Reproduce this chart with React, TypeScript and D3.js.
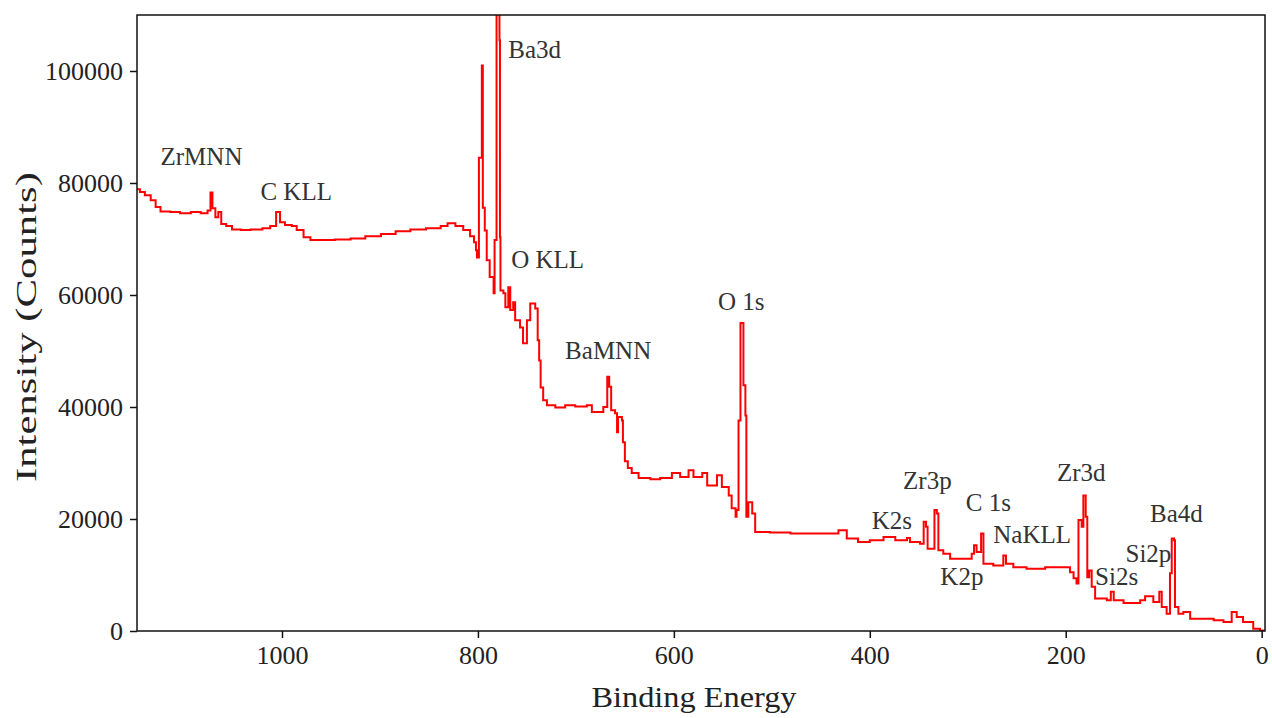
import React, { useEffect, useRef } from 'react'
import * as d3 from 'd3'

// XPS survey spectrum
const bindingEnergy = [
  1148, 1145, 1140, 1134, 1129, 1124, 1114, 1104, 1093, 1083, 1076, 1073, 1071, 1068, 1065, 1062, 1057, 1051,
  1042, 1032, 1020, 1012, 1006, 1002, 997, 990, 985, 978, 971, 961, 946, 930, 915, 899, 884, 869, 853, 838,
  831, 823, 815, 808, 804, 802, 801, 799, 796, 795, 793, 791, 788, 784, 783, 781, 778, 777.5, 777, 774, 772,
  769, 767, 764, 762, 757, 754, 750, 746.6, 741.5, 739, 737.5, 736, 733.4, 729.6, 721, 711, 700.7, 688.8,
  683.7, 675, 672, 668, 666, 664, 660, 658, 657, 653, 652, 650, 647, 643, 636, 624, 614, 607, 602, 593.6,
  585, 580, 571, 566, 556, 551, 544, 541, 537, 536, 534, 532, 529, 527, 526, 524, 520, 517, 502, 481, 461,
  437, 432, 423.5, 412, 400, 386, 374, 362, 359, 348.7, 345, 342.6, 341, 337, 334, 331.6, 330, 325, 318, 303,
  296, 293.6, 291, 286.4, 284, 274, 263.7, 261, 253.5, 240, 221, 199, 195.6, 192, 189, 187, 183.7, 182, 179.6,
  178, 176, 173.5, 170, 158, 154, 151, 141, 124, 119, 110.6, 104.5, 102, 97, 93.6, 91.8, 89.5, 88.5, 85, 80,
  73, 49, 39, 30.6, 25.5, 19, 8.6, 1.7, -3.4,
]
const intensity = [
  78900, 78400, 77800, 76900, 75700, 74900, 74800, 74600, 74800, 74600, 75100, 78300, 75500, 73900, 74800,
  72700, 72300, 71700, 71600, 71700, 71900, 72300, 74800, 73000, 72500, 72300, 71600, 70300, 69800, 69800,
  69900, 70100, 70500, 70900, 71400, 71700, 71900, 72300, 72800, 72300, 71600, 70500, 69400, 68000, 66700,
  84500, 101000, 75600, 71500, 66200, 63200, 60300, 69800, 113000, 105500, 70300, 60800, 60300, 57800, 61400,
  57300, 58700, 55500, 54200, 51400, 55500, 58500, 57600, 51900, 48300, 43500, 41200, 40300, 39900, 40300,
  40100, 40300, 39100, 39100, 40000, 45400, 43600, 39400, 38900, 35500, 38200, 37600, 33700, 30300, 29100,
  28200, 27300, 27100, 27300, 27300, 28200, 27500, 28700, 27500, 28200, 26000, 27800, 25700, 24200, 21900,
  20400, 21600, 37600, 55000, 43900, 38500, 20400, 23000, 21000, 17700, 17600, 17400, 17400, 17400, 18000,
  16500, 15900, 16200, 16800, 16200, 16600, 15900, 15600, 19500, 18600, 14700, 14700, 21600, 21000, 14400,
  13800, 12900, 12900, 13800, 15300, 14100, 17400, 12000, 11700, 13500, 12000, 11400, 11100, 11400, 11400,
  10500, 9400, 8500, 19800, 18600, 24200, 20400, 9600, 10800, 7900, 5800, 5500, 7000, 5500, 5000, 5500, 6200,
  5200, 7000, 4300, 3100, 10300, 16500, 16200, 4300, 3100, 3400, 2200, 1900, 1600, 3400, 2500, 1600, 400,
  100, 100,
]

const peakNames = ['ZrMNN', 'C KLL', 'Ba3d', 'O KLL', 'BaMNN', 'O 1s', 'K2s', 'Zr3p', 'C 1s', 'NaKLL', 'K2p', 'Zr3d', 'Ba4d', 'Si2p', 'Si2s']
const peakLabelEnergy = [1124, 1022, 769, 766, 711, 555, 398, 366, 302, 274, 328, 209, 114, 139, 170]
const peakLabelIntensity = [83200, 77000, 102300, 64900, 48500, 57300, 18300, 25300, 21400, 15700, 8200, 26700, 19400, 12300, 8300]

const xTicks = [1000, 800, 600, 400, 200, 0]
const yTicks = [0, 20000, 40000, 60000, 80000, 100000]

export default function App() {
  const svgRef = useRef<SVGSVGElement>(null)

  useEffect(() => {
    const width = 1272
    const height = 718
    const margin = { top: 15, right: 7, bottom: 87, left: 137 }
    const font = '"Liberation Serif", "Times New Roman", serif'

    const svg = d3.select(svgRef.current)
    svg.selectAll('*').remove()

    const x = d3.scaleLinear().domain([1148, -3.4]).range([margin.left, width - margin.right])
    const y = d3.scaleLinear().domain([0, 110000]).range([height - margin.bottom, margin.top])

    svg.append('defs').append('clipPath').attr('id', 'plot-clip')
      .append('rect')
      .attr('x', margin.left).attr('y', margin.top)
      .attr('width', width - margin.left - margin.right)
      .attr('height', height - margin.top - margin.bottom)

    // spectrum
    const pts = bindingEnergy.map((e, i) => [e, intensity[i]] as [number, number])
    const line = d3.line<[number, number]>().x(d => x(d[0])).y(d => y(d[1])).curve(d3.curveStepAfter)
    svg.append('path').datum(pts)
      .attr('clip-path', 'url(#plot-clip)')
      .attr('fill', 'none').attr('stroke', '#ff0000').attr('stroke-width', 2)
      .attr('d', line)

    // frame
    svg.append('rect')
      .attr('x', margin.left).attr('y', margin.top)
      .attr('width', width - margin.left - margin.right)
      .attr('height', height - margin.top - margin.bottom)
      .attr('fill', 'none').attr('stroke', '#111').attr('stroke-width', 1.5)

    // x axis
    const xAxis = svg.append('g').attr('transform', `translate(0,${height - margin.bottom})`)
    xAxis.call(d3.axisBottom(x).tickValues(d3.range(0, 1150, 50)).tickSize(4).tickFormat(() => ''))
    xAxis.call(d3.axisBottom(x).tickValues(xTicks).tickSize(7).tickPadding(8).tickFormat(d3.format('d')))
    xAxis.selectAll('.domain').remove()
    xAxis.selectAll('line').attr('stroke', '#111').attr('stroke-width', 1.5)
    xAxis.selectAll('text').attr('font-family', font).attr('font-size', 26).attr('fill', '#222')

    // y axis
    const yAxis = svg.append('g').attr('transform', `translate(${margin.left},0)`)
    yAxis.call(d3.axisLeft(y).tickValues(d3.range(0, 110001, 5000)).tickSize(4).tickFormat(() => ''))
    yAxis.call(d3.axisLeft(y).tickValues(yTicks).tickSize(7).tickPadding(7).tickFormat(d3.format('d')))
    yAxis.selectAll('.domain').remove()
    yAxis.selectAll('line').attr('stroke', '#111').attr('stroke-width', 1.5)
    yAxis.selectAll('text').attr('font-family', font).attr('font-size', 26).attr('fill', '#222')

    // titles
    svg.append('text')
      .attr('x', 694).attr('y', 707)
      .attr('text-anchor', 'middle')
      .attr('font-family', font).attr('font-size', 30).attr('fill', '#222')
      .attr('textLength', 205).attr('lengthAdjust', 'spacingAndGlyphs')
      .text('Binding Energy')
    svg.append('text')
      .attr('transform', 'translate(36,327) rotate(-90)')
      .attr('text-anchor', 'middle')
      .attr('font-family', font).attr('font-size', 30).attr('fill', '#222')
      .attr('textLength', 310).attr('lengthAdjust', 'spacingAndGlyphs')
      .text('Intensity (Counts)')

    // peak labels
    svg.append('g').selectAll('text').data(peakNames).join('text')
      .attr('x', (d, i) => x(peakLabelEnergy[i]))
      .attr('y', (d, i) => y(peakLabelIntensity[i]))
      .attr('font-family', font).attr('font-size', 25).attr('fill', '#333')
      .text(d => d)
  }, [])

  return (
    <div>
      <svg ref={svgRef} width={1272} height={718} style={{ position: 'absolute', left: 0, top: 0, background: '#fff' }} />
    </div>
  )
}
